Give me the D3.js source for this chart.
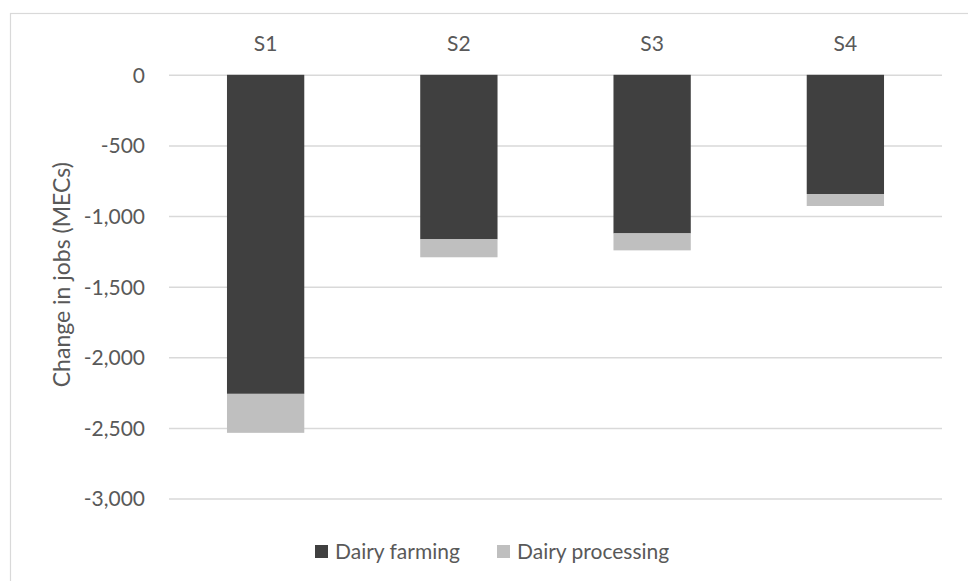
<!DOCTYPE html>
<html>
<head>
<meta charset="utf-8">
<script src="https://cdn.jsdelivr.net/npm/d3@7"></script>
<style>
  html, body { margin: 0; padding: 0; background: #fff; }
  svg { display: block; }
  text { font-family: Lato, "Open Sans", sans-serif; fill: #595959; }
</style>
</head>
<body>
<svg id="chart" width="968" height="581"></svg>
<script>
// Scenario categories and job changes (MECs) per sector
const scenarios = ["S1", "S2", "S3", "S4"];
const dairyFarming = [-2259, -1165, -1123, -844];
const dairyProcessing = [-276, -127, -120, -85];
const seriesNames = ["Dairy farming", "Dairy processing"];
const seriesColors = ["#404040", "#bfbfbf"];
const yTicks = [0, -500, -1000, -1500, -2000, -2500, -3000];
const yLabel = "Change in jobs (MECs)";

const svg = d3.select("#chart");
const W = 968, H = 581;
const plot = { left: 169, right: 942, top: 74.8, bottom: 498.5 };

// Outer chart frame
svg.append("rect")
  .attr("x", 10.5).attr("y", 13.5)
  .attr("width", W + 10).attr("height", H + 10)
  .attr("fill", "none").attr("stroke", "#d9d9d9").attr("stroke-width", 1.2);

const x = d3.scaleBand().domain(scenarios).range([plot.left, plot.right]).paddingInner(0.6).paddingOuter(0.3);
const y = d3.scaleLinear().domain([-3000, 0]).range([plot.bottom, plot.top]);

// Thousands separator with a plain hyphen for negatives
const fmt = v => d3.format(",")(v).replace("\u2212", "-");

// Horizontal gridlines with tick labels
const yAxis = d3.axisLeft(y).tickValues(yTicks).tickFormat(fmt).tickSize(-(plot.right - plot.left)).tickPadding(24);
const gy = svg.append("g").attr("transform", `translate(${plot.left},0)`).call(yAxis);
gy.select(".domain").remove();
gy.selectAll(".tick line").attr("stroke", "#d9d9d9").attr("stroke-width", 1.5);
gy.selectAll(".tick text").style("font-size", "21px").attr("fill", "#595959").attr("dy", "0.35em");

// Stacked bars (both series negative, stacked downward from zero)
const rows = scenarios.map((s, i) => ({ s, farming: dairyFarming[i], processing: dairyProcessing[i] }));
const stack = d3.stack().keys(["farming", "processing"]).offset(d3.stackOffsetDiverging);
const layers = stack(rows);

svg.append("g").selectAll("g").data(layers).join("g")
  .attr("fill", (d, i) => seriesColors[i])
  .selectAll("rect").data(d => d).join("rect")
  .attr("x", d => x(d.data.s))
  .attr("width", x.bandwidth())
  .attr("y", d => y(d[1]))
  .attr("height", d => y(d[0]) - y(d[1]));

// Category labels above the plot
const xAxis = d3.axisTop(x).tickSize(0).tickPadding(0);
const gx = svg.append("g").attr("transform", `translate(0,51)`).call(xAxis);
gx.select(".domain").remove();
gx.selectAll(".tick text").style("font-size", "21px").attr("fill", "#595959").attr("dy", 0);

// Y-axis title
svg.append("text")
  .attr("transform", `translate(70,${(plot.top + plot.bottom) / 2 - 12}) rotate(-90)`)
  .attr("text-anchor", "middle")
  .style("font-size", "23px")
  .text(yLabel);

// Legend
const legend = svg.append("g");
const legendX = [315, 497];
seriesNames.forEach((name, i) => {
  const g = legend.append("g").attr("transform", `translate(${legendX[i]},545)`);
  g.append("rect").attr("width", 13).attr("height", 13).attr("fill", seriesColors[i]);
  g.append("text").attr("x", 20).attr("y", 6.5).attr("dy", "0.35em").style("font-size", "21px").text(name);
});
</script>
</body>
</html>
